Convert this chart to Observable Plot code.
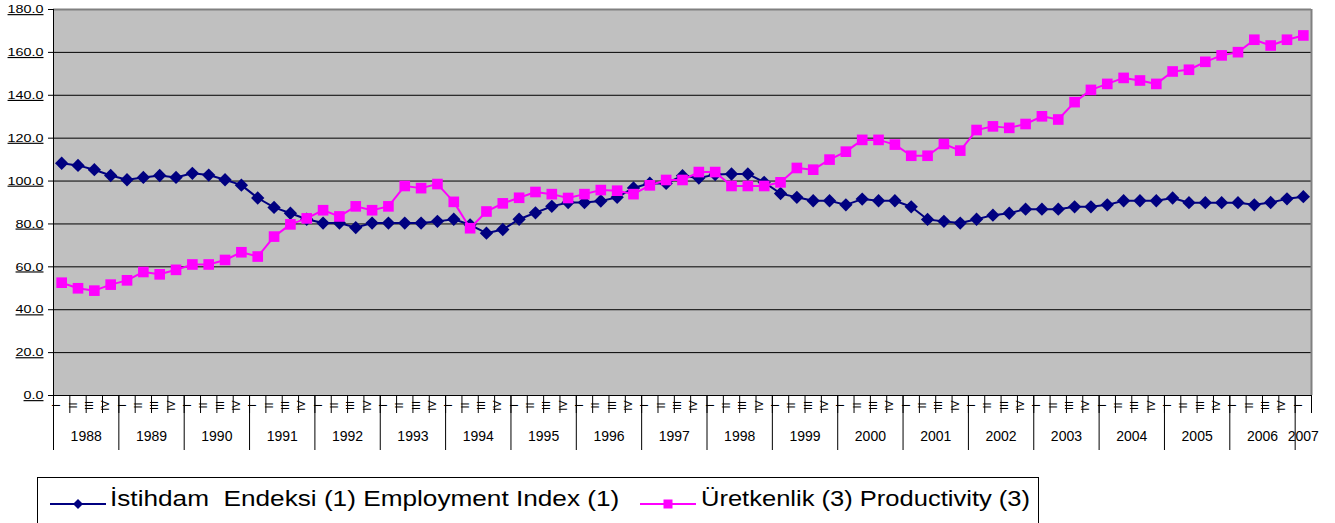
<!DOCTYPE html>
<html>
<head>
<meta charset="utf-8">
<script src="https://cdn.jsdelivr.net/npm/d3@7"></script>
<script src="https://cdn.jsdelivr.net/npm/@observablehq/plot@0.6"></script>
<style>
  html, body { margin: 0; padding: 0; background: #fff; overflow: hidden; }
  #wrap { position: relative; width: 1335px; height: 523px; font-family: Arial, "Liberation Sans", sans-serif; }
  #legend { position: absolute; left: 37px; top: 477px; width: 1002px; height: 52px; border: 1px solid #000; background: #fff; box-sizing: border-box; }
  .sw { position: absolute; top: 14px; }
  .lab { position: absolute; top: 8px; font-size: 22px; white-space: pre; transform-origin: left center; color: #000; line-height: 26px; }
</style>
</head>
<body>
<div id="wrap">
  <div id="chart"></div>
  <div id="legend"></div>
</div>
<script>
const years = [1988,1989,1990,1991,1992,1993,1994,1995,1996,1997,1998,1999,2000,2001,2002,2003,2004,2005,2006,2007];
const quarters = ["I","II","III","IV"];
const yTicks = [0,20,40,60,80,100,120,140,160,180];

const seriesNames = ["İstihdam  Endeksi (1) Employment Index (1)", "Üretkenlik (3) Productivity (3)"];

const employment = [
  108.3,107.3,105.3,102.6,
  100.6,101.7,102.6,101.7,
  103.6,102.8,100.6,98.1,
  92.1,87.7,85.0,82.2,
  80.4,80.4,78.3,80.4,
  80.4,80.4,80.4,81.2,
  82.2,79.6,75.7,77.4,
  82.2,85.2,88.2,90.0,
  90.0,90.7,92.4,96.8,
  99.0,98.9,102.5,101.4,
  103.0,103.3,103.3,99.4,
  94.2,92.4,90.8,90.8,
  88.9,91.6,90.8,90.8,
  88.0,82.1,81.2,80.4,
  82.2,84.1,85.0,86.9,
  86.9,86.9,88.0,88.0,
  88.9,90.8,90.8,90.8,
  92.1,89.9,89.9,89.9,
  89.9,88.9,90.0,91.7,
  92.7
];

const productivity = [
  52.6,50.0,48.9,51.7,
  53.7,57.6,56.5,58.6,
  61.1,61.1,63.2,66.8,
  64.8,74.1,79.8,82.6,
  86.4,83.5,88.2,86.4,
  88.2,97.7,96.7,98.6,
  90.3,78.0,85.8,89.6,
  92.2,94.9,93.9,92.1,
  93.9,95.8,95.5,93.9,
  98.0,100.5,100.5,104.2,
  104.2,97.7,97.7,97.7,
  99.4,106.1,105.3,110.0,
  113.7,119.2,119.2,117.0,
  111.8,111.8,117.3,114.2,
  123.8,125.5,124.8,126.6,
  130.2,128.7,136.8,142.5,
  145.3,148.1,146.9,145.3,
  151.1,151.9,155.6,158.6,
  160.1,165.9,163.2,165.9,
  167.9
];

const colors = ["#000080", "#FF00FF"];

const rows = employment.map((v, i) => ({
  i, year: years[Math.floor(i / 4)], q: quarters[i % 4], emp: v, prod: productivity[i]
}));
const n = rows.length;
const boundaries = d3.range(0, n + 1);
const yearBoundaries = years.map((y, k) => k * 4);
const yearRows = years.map((y, k) => ({year: y, start: k * 4, len: Math.min(4, n - k * 4)}));

const chart = Plot.plot({
  width: 1335,
  height: 460,
  marginLeft: 53,
  marginRight: 24,
  marginTop: 9,
  marginBottom: 65,
  style: {fontFamily: "Arial, 'Liberation Sans', sans-serif", fontSize: "12px", background: "transparent", color: "#000", overflow: "visible"},
  x: {type: "linear", domain: [0, n]},
  y: {domain: [0, 180]},
  marks: [
    Plot.frame({fill: "#c0c0c0", stroke: null}),
    Plot.ruleY(yTicks.slice(1, -1), {stroke: "#000", strokeWidth: 1}),
    Plot.ruleY([180], {stroke: "#808080", strokeWidth: 2}),
    Plot.ruleX([n], {stroke: "#808080", strokeWidth: 2}),
    Plot.ruleY([0], {stroke: "#000", strokeWidth: 1}),
    Plot.ruleX([0], {stroke: "#000", strokeWidth: 1}),
    Plot.axisY({ticks: yTicks, tickFormat: d => d.toFixed(1), tickSize: 5, tickPadding: 5, fontSize: 11.5, stroke: "#000"}),
    Plot.axisX({ticks: boundaries, tickSize: 18, fill: "none", stroke: "#000"}),
    Plot.axisX({ticks: yearBoundaries, tickSize: 55, fill: "none", stroke: "#000"}),
    Plot.text(rows, {x: d => d.i + 0.5, text: "q", frameAnchor: "bottom", rotate: -90, dy: 10, dx: -1.5, fontSize: 11, fill: "#000", ariaLabel: "quarter label"}),
    Plot.text(yearRows, {x: d => d.start + d.len / 2, text: d => String(d.year), frameAnchor: "bottom", dy: 45, fontSize: 14, fill: "#000", ariaLabel: "year label"}),
    Plot.line(rows, {x: d => d.i + 0.5, y: "emp", stroke: colors[0], strokeWidth: 2}),
    Plot.dot(rows, {x: d => d.i + 0.5, y: "emp", symbol: "diamond2", fill: colors[0], stroke: null, r: 6}),
    Plot.line(rows, {x: d => d.i + 0.5, y: "prod", stroke: colors[1], strokeWidth: 2}),
    Plot.dot(rows, {x: d => d.i + 0.5, y: "prod", symbol: "square", fill: colors[1], stroke: null, r: 6})
  ]
});
document.getElementById("chart").appendChild(chart);
// Excel-like stretched text rendering
d3.select(chart).selectAll('g[aria-label^="y-axis tick label"] text')
  .attr("text-decoration", "underline")
  .attr("transform", function() { return (this.getAttribute("transform") || "") + " scale(1.25,1)"; });
d3.select(chart).selectAll('g[aria-label="quarter label"] text')
  .attr("transform", function() { return (this.getAttribute("transform") || "") + " scale(1.8,1)"; });

// Legend
const legend = d3.select("#legend");
const items = [
  {name: seriesNames[0], color: colors[0], sym: "diamond", swLeft: 12, labLeft: 72, sx: 1.19},
  {name: seriesNames[1], color: colors[1], sym: "square", swLeft: 602, labLeft: 663, sx: 1.16}
];
items.forEach(it => {
  const sw = legend.append("svg").attr("class", "sw").attr("width", 56).attr("height", 24)
    .style("left", it.swLeft + "px");
  sw.append("line").attr("x1", 0).attr("x2", 56).attr("y1", 12).attr("y2", 12)
    .attr("stroke", it.color).attr("stroke-width", 2);
  if (it.sym === "diamond") {
    sw.append("path").attr("d", "M28,7L33,12L28,17L23,12Z").attr("fill", it.color);
  } else {
    sw.append("rect").attr("x", 23.5).attr("y", 7.5).attr("width", 9).attr("height", 9).attr("fill", it.color);
  }
  legend.append("div").attr("class", "lab").style("left", it.labLeft + "px")
    .style("transform", `scaleX(${it.sx})`).text(it.name);
});
</script>
</body>
</html>
